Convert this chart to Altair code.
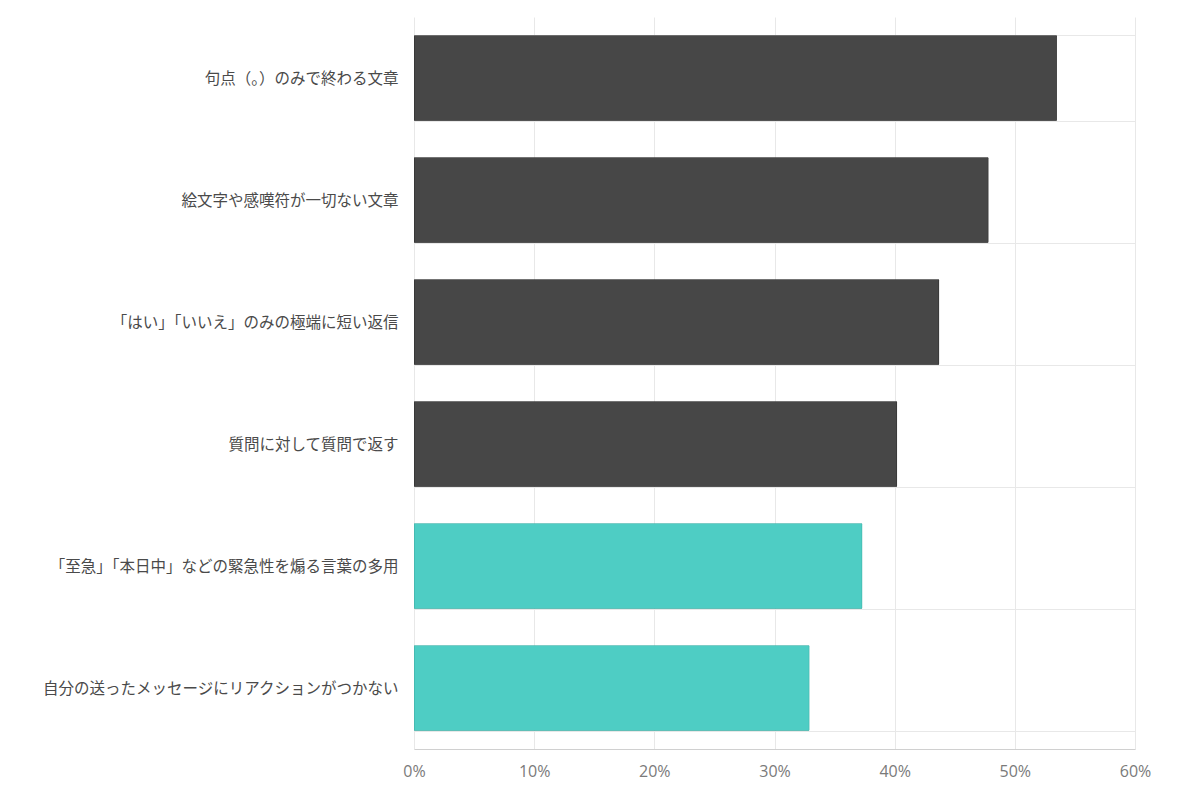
import altair as alt
import pandas as pd

categories = [
    "句点（。）のみで終わる文章",
    "絵文字や感嘆符が一切ない文章",
    "「はい」「いいえ」のみの極端に短い返信",
    "質問に対して質問で返す",
    "「至急」「本日中」などの緊急性を煽る言葉の多用",
    "自分の送ったメッセージにリアクションがつかない",
]
values = [0.535, 0.478, 0.437, 0.402, 0.373, 0.329]
groups = ["dark", "dark", "dark", "dark", "teal", "teal"]
ticks = [0, 0.1, 0.2, 0.3, 0.4, 0.5, 0.6]

df = pd.DataFrame({"item": categories, "value": values, "group": groups})

font = "Noto Sans CJK JP"

chart = (
    alt.Chart(df)
    .mark_bar(strokeWidth=1, cornerRadius=1)
    .encode(
        x=alt.X(
            "value:Q",
            scale=alt.Scale(domain=[0, 0.6], nice=False),
            axis=alt.Axis(
                format=".0%",
                values=ticks,
                title=None,
                grid=True,
                gridColor="#e8e8e8",
                domainColor="#d0d0d0",
                ticks=False,
                labelFlush=False,
                labelColor="#7a7a7a",
                labelFontSize=16,
                labelFont="Open Sans",
                labelPadding=14,
            ),
        ),
        y=alt.Y(
            "item:N",
            sort=categories,
            scale=alt.Scale(paddingInner=0.3, paddingOuter=0.15),
            axis=alt.Axis(
                title=None,
                grid=True,
                gridColor="#e8e8e8",
                tickBand="extent",
                domain=False,
                ticks=False,
                labelColor="#4a4a4a",
                labelFontSize=15.5,
                labelFont=font,
                labelPadding=16,
                labelLimit=500,
            ),
        ),
        color=alt.Color(
            "group:N",
            scale=alt.Scale(domain=["dark", "teal"], range=["#474747", "#4ecdc4"]),
            legend=None,
        ),
        stroke=alt.Stroke(
            "group:N",
            scale=alt.Scale(domain=["dark", "teal"], range=["#2a2a2a", "#3aa89f"]),
            legend=None,
        ),
    )
    .properties(
        width=721,
        height=732,
        autosize=alt.AutoSizeParams(type="none"),
        padding={"left": 406, "top": 9, "right": 40, "bottom": 50},
        background="#ffffff",
    )
    .configure_view(stroke=None)
)

chart.save("out.html", embed_options={"renderer": "svg", "actions": False})
